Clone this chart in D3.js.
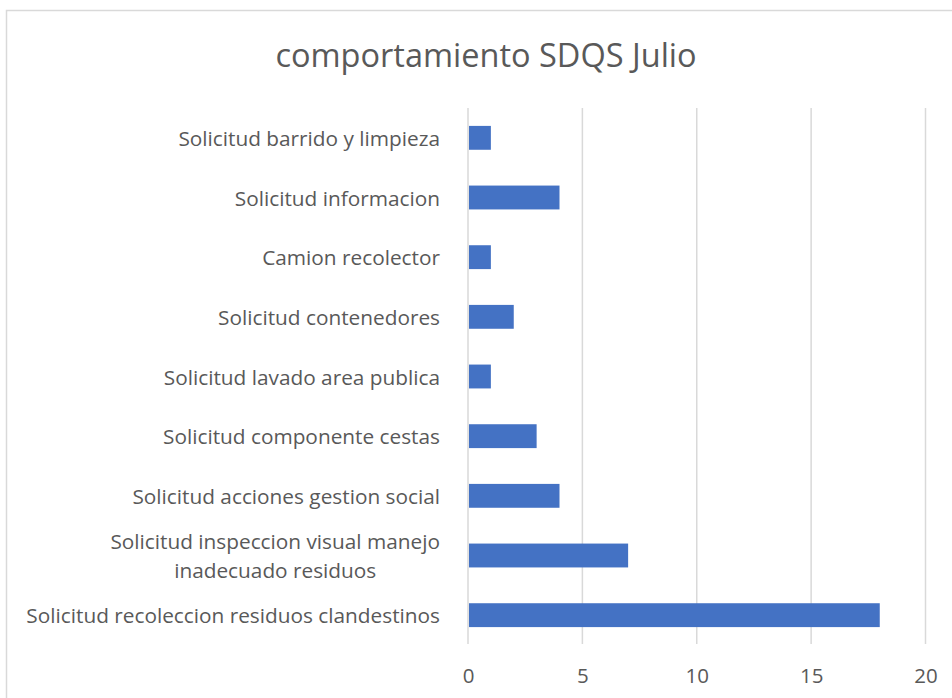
<!DOCTYPE html>
<html>
<head>
<meta charset="utf-8">
<script src="https://cdn.jsdelivr.net/npm/d3@7"></script>
<style>
  body { margin: 0; background: #fff; }
  text { font-family: "Open Sans", sans-serif; fill: #595959; }
</style>
</head>
<body>
<svg id="chart" width="952" height="698"></svg>
<script>
const title = "comportamiento SDQS Julio";
// top to bottom, as in the picture
const categories = [
    ["Solicitud barrido y limpieza"],
    ["Solicitud informacion"],
    ["Camion recolector"],
    ["Solicitud contenedores"],
    ["Solicitud lavado area publica"],
    ["Solicitud componente cestas"],
    ["Solicitud acciones gestion social"],
    ["Solicitud inspeccion visual manejo", "inadecuado residuos"],
    ["Solicitud recoleccion residuos clandestinos"]
];
const values = [1, 4, 1, 2, 1, 3, 4, 7, 18];
const xTicks = [0, 5, 10, 15, 20];

const svg = d3.select("#chart");

// chart border
svg.append("rect")
    .attr("x", 6.5).attr("y", 10.5)
    .attr("width", 960).attr("height", 700)
    .attr("fill", "none")
    .attr("stroke", "#d9d9d9")
    .attr("stroke-width", 1.5);

svg.append("text")
    .attr("x", 486).attr("y", 54)
    .attr("text-anchor", "middle")
    .attr("dominant-baseline", "central")
    .style("font-size", "32.5px")
    .text(title);

const xScale = d3.scaleLinear().domain([0, 20]).range([468, 925.5]);
const yScale = d3.scaleBand()
    .domain(d3.range(categories.length))
    .range([108, 645])
    .paddingInner(0.6)
    .paddingOuter(0.3);

// gridlines
svg.append("g")
    .selectAll("line")
    .data(xTicks)
    .join("line")
    .attr("x1", d => xScale(d)).attr("x2", d => xScale(d))
    .attr("y1", 108).attr("y2", 644)
    .attr("stroke", "#d9d9d9")
    .attr("stroke-width", 1.5);

svg.append("g")
    .selectAll("rect")
    .data(values)
    .join("rect")
    .attr("x", xScale(0) + 1)
    .attr("y", (d, i) => yScale(i))
    .attr("width", d => xScale(d) - xScale(0) - 1)
    .attr("height", yScale.bandwidth())
    .attr("fill", "#4472c4");

// x axis labels
const xAxis = svg.append("g")
    .attr("transform", "translate(0,675)")
    .call(d3.axisBottom(xScale).tickValues(xTicks).tickSize(0).tickPadding(0));
xAxis.select(".domain").remove();
xAxis.selectAll("text")
    .attr("dy", null)
    .attr("y", 0)
    .attr("dominant-baseline", "central")
    .style("font-size", "20.5px")
    .style("font-family", "'Open Sans', sans-serif")
    .attr("fill", "#595959");

// category labels
const labelRight = 440;
const lineGap = 29;
const labels = svg.append("g");
categories.forEach((lines, i) => {
    const cy = yScale(i) + yScale.bandwidth() / 2;
    const g = labels.append("g");
    const texts = lines.map((line, j) =>
        g.append("text")
            .attr("y", cy + (j - (lines.length - 1) / 2) * lineGap)
            .attr("dominant-baseline", "central")
            .style("font-size", "20.8px")
            .text(line));
    const widths = texts.map(t => t.node().getComputedTextLength());
    const maxW = d3.max(widths);
    texts.forEach(t => {
        t.attr("x", labelRight - maxW / 2).attr("text-anchor", "middle");
    });
});
</script>
</body>
</html>
